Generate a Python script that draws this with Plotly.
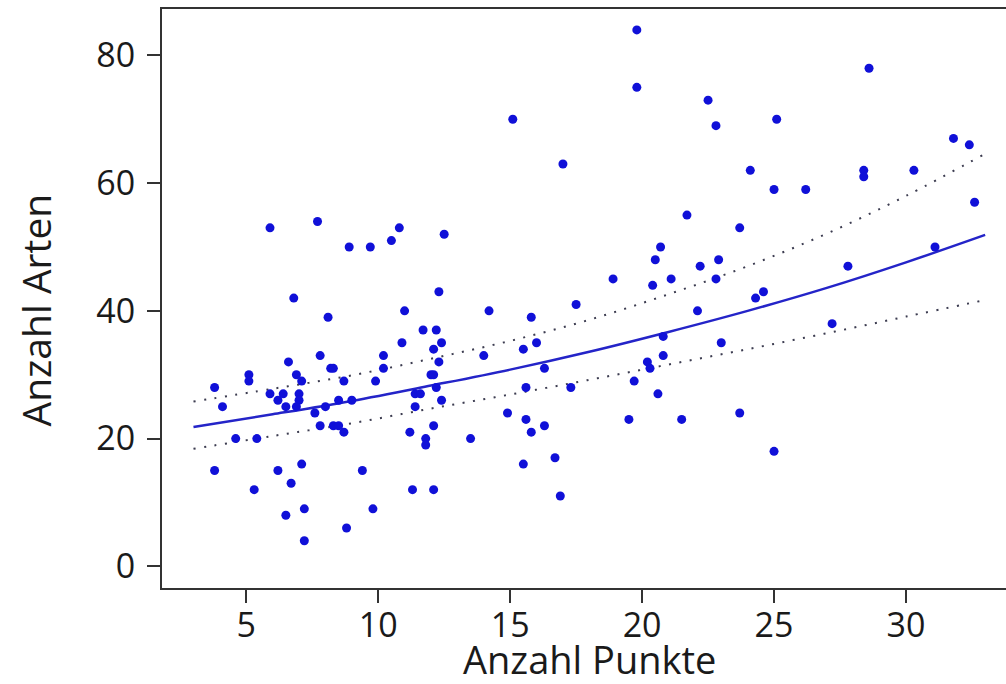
import plotly.graph_objects as go

# Observed points: Anzahl Punkte (x) vs Anzahl Arten (y)
punkte = [15.1, 17.0, 5.9, 7.7, 8.9, 9.7, 10.5, 10.8, 12.5, 6.8, 12.3,
          19.8, 19.8, 22.5, 22.8, 25.1, 28.6, 31.8, 32.4, 24.1, 28.4, 28.4, 30.3,
          25.0, 26.2, 32.6, 21.7, 23.7, 20.7, 20.5, 18.9, 20.4, 21.1, 22.2, 22.9,
          22.8, 24.3, 24.6, 27.8, 31.1,
          22.1, 20.8, 20.8, 20.2, 20.3, 19.7, 20.6, 19.5, 21.5, 23.7, 25.0, 23.0, 27.2,
          8.1, 11.0, 14.2, 17.5, 15.8, 11.7, 12.2, 10.9, 12.4, 12.1, 12.3, 15.5, 16.0,
          14.0, 16.3, 10.2, 10.2, 7.8, 6.6, 8.2, 8.3, 6.9, 7.1, 8.7, 9.9, 5.1, 5.1,
          3.8, 4.1, 5.9, 6.4, 6.2, 6.5, 7.0, 7.0, 6.9, 7.6, 8.0, 8.5, 9.0, 7.8, 8.3,
          8.5, 8.7, 4.6, 5.4, 3.8, 6.2, 7.1, 6.7, 5.3, 6.5, 7.2, 7.2, 9.4, 9.8, 8.8,
          11.3, 12.1, 11.2, 11.8, 11.8, 12.1, 13.5, 11.4, 11.6, 11.4, 12.0, 12.1,
          12.2, 12.4, 14.9, 15.6, 15.8, 16.3, 15.6, 17.3, 15.5, 16.7, 16.9]
arten = [70, 63, 53, 54, 50, 50, 51, 53, 52, 42, 43,
         84, 75, 73, 69, 70, 78, 67, 66, 62, 62, 61, 62,
         59, 59, 57, 55, 53, 50, 48, 45, 44, 45, 47, 48,
         45, 42, 43, 47, 50,
         40, 36, 33, 32, 31, 29, 27, 23, 23, 24, 18, 35, 38,
         39, 40, 40, 41, 39, 37, 37, 35, 35, 34, 32, 34, 35,
         33, 31, 33, 31, 33, 32, 31, 31, 30, 29, 29, 29, 30, 29,
         28, 25, 27, 27, 26, 25, 27, 26, 25, 24, 25, 26, 26, 22, 22,
         22, 21, 20, 20, 15, 15, 16, 13, 12, 8, 9, 4, 15, 9, 6,
         12, 12, 21, 20, 19, 22, 20, 27, 27, 25, 30, 30,
         28, 26, 24, 23, 21, 22, 28, 28, 16, 17, 11]

# Fitted curve and dotted bands
fit_x = [3, 6, 9, 12, 15, 18, 21, 24, 27, 30, 33]
fit_y = [21.8, 23.8, 25.9, 28.3, 30.8, 33.6, 36.7, 40.0, 43.6, 47.6, 51.9]
upper_y = [25.8, 27.8, 29.9, 32.5, 35.3, 38.6, 42.6, 47.0, 52.1, 58.0, 64.6]
lower_y = [18.4, 20.4, 22.4, 24.7, 26.9, 29.2, 31.6, 34.0, 36.5, 39.1, 41.7]

x_ticks = [5, 10, 15, 20, 25, 30]
y_ticks = [0, 20, 40, 60, 80]

FONT = "Open Sans"
TXT = "#1a1a1a"
band_color = "#3c3c50"

fig = go.Figure()
fig.add_trace(go.Scatter(x=fit_x, y=upper_y, mode="lines",
                         line=dict(color=band_color, width=2, dash="2px,8.5px", shape="spline"),
                         hoverinfo="skip"))
fig.add_trace(go.Scatter(x=fit_x, y=lower_y, mode="lines",
                         line=dict(color=band_color, width=2, dash="2px,8.5px", shape="spline"),
                         hoverinfo="skip"))
fig.add_trace(go.Scatter(x=fit_x, y=fit_y, mode="lines",
                         line=dict(color="#2424c8", width=2.5, shape="spline")))
fig.add_trace(go.Scatter(x=punkte, y=arten, mode="markers",
                         marker=dict(color="#1010d8", size=9, line=dict(width=0))))

axis_common = dict(
    showgrid=False, zeroline=False, showline=True, linecolor="#333333", linewidth=2,
    ticks="outside", ticklen=13, tickwidth=1.5, tickcolor="#333333",
    tickfont=dict(family=FONT, size=34, color=TXT), automargin=False,
)
fig.update_xaxes(range=[1.807, 33.79], tickvals=x_ticks, mirror=True,
                 ticklabelstandoff=-7, **axis_common)
fig.update_yaxes(range=[-3.4, 87.27], tickvals=y_ticks, mirror=False,
                 ticklabelstandoff=5, **axis_common)

fig.add_annotation(text="Anzahl Punkte", xref="paper", yref="paper", x=0.5, y=0,
                   xanchor="center", yanchor="middle", xshift=5, yshift=-71,
                   showarrow=False, font=dict(family=FONT, size=38, color=TXT))
fig.add_annotation(text="Anzahl Arten", xref="paper", yref="paper", x=0, y=0.5,
                   xanchor="center", yanchor="middle", xshift=-127, yshift=-12,
                   textangle=-90, showarrow=False, font=dict(family=FONT, size=39, color=TXT))

fig.update_layout(
    width=1006, height=684, showlegend=False,
    margin=dict(l=162, r=0, t=9, b=96),
    plot_bgcolor="white", paper_bgcolor="white",
)
fig.write_html("out.html", config={"displayModeBar": False},
               post_script="document.body.style.margin='0';document.body.style.overflow='hidden';")
